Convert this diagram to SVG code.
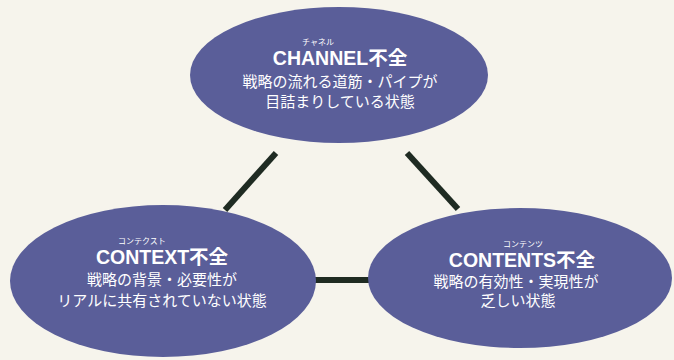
<svg xmlns="http://www.w3.org/2000/svg" width="674" height="360" viewBox="0 0 674 360">
<style>
.bg{fill:#f6f4ec}
.node ellipse{fill:#5a5e99}
.conn line{stroke:#1f2b22;stroke-width:6;stroke-linecap:butt}
text{fill:#ffffff;text-anchor:middle}
.t{font-family:"Liberation Sans","Noto Sans CJK JP",sans-serif;font-weight:bold;font-size:19.5px}
.b{font-family:"Noto Sans CJK JP",sans-serif;font-size:15px}
.r{font-family:"Noto Sans CJK JP",sans-serif;font-size:8px}
</style>
<rect class="bg" x="0" y="0" width="674" height="360"/>
<g class="conn">
<line x1="276" y1="153" x2="225" y2="210"/>
<line x1="407" y1="153" x2="458" y2="209"/>
<line x1="315" y1="280" x2="370" y2="280"/>
</g>
<g id="channel" class="node">
<ellipse cx="339" cy="75" rx="149" ry="68"/>
<text class="r" x="318" y="45">チャネル</text>
<text class="t" x="340" y="65">CHANNEL不全</text>
<text class="b" x="340" y="87">戦略の流れる道筋・パイプが</text>
<text class="b" x="340" y="107">目詰まりしている状態</text>
</g>
<g id="context" class="node">
<ellipse cx="163" cy="281" rx="153" ry="76"/>
<text class="r" x="142" y="244">コンテクスト</text>
<text class="t" x="162" y="264">CONTEXT不全</text>
<text class="b" x="162" y="285">戦略の背景・必要性が</text>
<text class="b" x="162" y="306">リアルに共有されていない状態</text>
</g>
<g id="contents" class="node">
<ellipse cx="520" cy="278" rx="152" ry="70"/>
<text class="r" x="523" y="247">コンテンツ</text>
<text class="t" x="522" y="267">CONTENTS不全</text>
<text class="b" x="516" y="287">戦略の有効性・実現性が</text>
<text class="b" x="518" y="306">乏しい状態</text>
</g>
</svg>
